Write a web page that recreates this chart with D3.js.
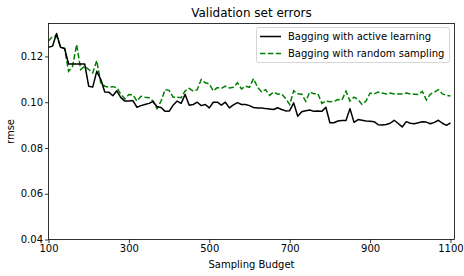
<!DOCTYPE html>
<html>
<head>
<meta charset="utf-8">
<script src="https://cdn.jsdelivr.net/npm/d3@7"></script>
<style>
  html, body { margin: 0; padding: 0; background: #fff; }
  svg { display: block; }
  text { font-family: "DejaVu Sans", sans-serif; fill: #000; }
</style>
</head>
<body>
<svg id="chart" width="464" height="276"></svg>
<script>
const budgets = d3.range(100, 1101, 10);

const activeLearning = [
  0.1240, 0.1245, 0.1300, 0.1240, 0.1235, 0.1167, 0.1167, 0.1167, 0.1167, 0.1167,
  0.1070, 0.1066, 0.1135, 0.1100, 0.1045, 0.1044, 0.1028, 0.1050, 0.1020, 0.1005,
  0.1005, 0.1007, 0.0978, 0.0985, 0.0990, 0.0995, 0.1003, 0.0980, 0.0977, 0.0960,
  0.0960, 0.0987, 0.1005, 0.0995, 0.1034, 0.0987, 0.0990, 0.1000, 0.0985, 0.0990,
  0.0975, 0.1000, 0.1000, 0.0987, 0.1000, 0.0975, 0.0988, 0.0998, 0.0990, 0.0990,
  0.0985, 0.0977, 0.0975, 0.0975, 0.0972, 0.0970, 0.0968, 0.0976, 0.0968, 0.0962,
  0.0963, 0.0997, 0.0939, 0.0958, 0.0963, 0.0966, 0.0960, 0.0962, 0.0960, 0.0978,
  0.0910, 0.0910, 0.0918, 0.0920, 0.0920, 0.0972, 0.0912, 0.0924, 0.0921, 0.0918,
  0.0917, 0.0915, 0.0902, 0.0900, 0.0903, 0.0908, 0.0921, 0.0907, 0.0892, 0.0915,
  0.0908, 0.0906, 0.0910, 0.0915, 0.0913, 0.0906, 0.0912, 0.0921, 0.0908, 0.0899,
  0.0910
];

const randomSampling = [
  0.1267, 0.1288, 0.1290, 0.1240, 0.1235, 0.1135, 0.1157, 0.1252, 0.1143, 0.1157,
  0.1143, 0.1128, 0.1182, 0.1085, 0.1070, 0.1066, 0.1068, 0.1063, 0.1035, 0.1015,
  0.1034, 0.1032, 0.1005, 0.1026, 0.1022, 0.1020, 0.1005, 0.0972, 0.1005, 0.1055,
  0.1052, 0.1022, 0.1022, 0.1020, 0.1050, 0.1060, 0.1048, 0.1055, 0.1099, 0.1085,
  0.1080, 0.1050, 0.1064, 0.1060, 0.1070, 0.1062, 0.1065, 0.1085, 0.1058, 0.1070,
  0.1065, 0.1103, 0.1065, 0.1045, 0.1055, 0.1030, 0.1045, 0.1035, 0.1036, 0.1016,
  0.0990, 0.1050, 0.1037, 0.1035, 0.1004, 0.1045, 0.1037, 0.1038, 0.0995, 0.1005,
  0.1002, 0.1003, 0.1012, 0.1010, 0.1048, 0.1005, 0.1022, 0.1012, 0.0990, 0.1005,
  0.1040, 0.1036, 0.1044, 0.1040, 0.1036, 0.1040, 0.1036, 0.1036, 0.1036, 0.1040,
  0.1036, 0.1035, 0.1034, 0.1047, 0.1010, 0.1036, 0.1044, 0.1055, 0.1036, 0.1030,
  0.1027
];

const xTicks = [100, 300, 500, 700, 900, 1100];
const yTicks = [0.04, 0.06, 0.08, 0.10, 0.12];
const seriesNames = ["Bagging with active learning", "Bagging with random sampling"];
const titleText = "Validation set errors";
const xLabel = "Sampling Budget";
const yLabel = "rmse";

const svg = d3.select("#chart");
const L = 48.5, R = 454.5, T = 23.5, B = 239.5;

const x = d3.scaleLinear().domain([100, 1110]).range([L, R]);
const y = d3.scaleLinear().domain([0.04, 0.1344]).range([B, T]);

const line = (vals) => d3.line()
  .x((d, i) => x(budgets[i]))
  .y(d => y(d))(vals);

svg.append("defs").append("clipPath").attr("id", "clip")
  .append("rect").attr("x", L).attr("y", T).attr("width", R - L).attr("height", B - T);

const g = svg.append("g").attr("clip-path", "url(#clip)");
g.append("path").attr("d", line(randomSampling))
  .attr("fill", "none").attr("stroke", "#008000").attr("stroke-width", 1.5)
  .attr("stroke-dasharray", "5.5,2.4");
g.append("path").attr("d", line(activeLearning))
  .attr("fill", "none").attr("stroke", "#000").attr("stroke-width", 1.5)
  .attr("stroke-linejoin", "round");

// frame
svg.append("rect").attr("x", L).attr("y", T).attr("width", R - L).attr("height", B - T)
  .attr("fill", "none").attr("stroke", "#000").attr("stroke-width", 0.8);

// axes
const xAxis = d3.axisBottom(x).tickValues(xTicks).tickSize(3.5).tickPadding(2).tickFormat(d3.format("d"));
const yAxis = d3.axisLeft(y).tickValues(yTicks).tickSize(3.5).tickPadding(2).tickFormat(d3.format(".2f"));
const gx = svg.append("g").attr("transform", `translate(0,${B})`).call(xAxis);
const gy = svg.append("g").attr("transform", `translate(${L},0)`).call(yAxis);
[gx, gy].forEach(a => {
  a.select(".domain").remove();
  a.selectAll(".tick line").attr("stroke", "#000").attr("stroke-width", 0.8);
  a.selectAll(".tick text").attr("font-size", 10).attr("font-family", "DejaVu Sans").attr("fill", "#000");
});

svg.append("text").attr("x", (L + R) / 2).attr("y", 17).attr("text-anchor", "middle")
  .attr("font-size", 12).text(titleText);
svg.append("text").attr("x", (L + R) / 2).attr("y", 268).attr("text-anchor", "middle")
  .attr("font-size", 10).text(xLabel);
svg.append("text").attr("transform", `translate(14,${(T + B) / 2}) rotate(-90)`)
  .attr("text-anchor", "middle").attr("font-size", 10).text(yLabel);

// legend
const lg = svg.append("g");
lg.append("rect").attr("x", 256.5).attr("y", 27.5).attr("width", 193).attr("height", 35)
  .attr("rx", 2).attr("fill", "#fff").attr("fill-opacity", 0.8).attr("stroke", "#ccc").attr("stroke-width", 0.8);
const styles = [{c: "#000", d: null}, {c: "#008000", d: "5.5,2.4"}];
seriesNames.forEach((n, i) => {
  const yy = 36.5 + i * 17;
  const l = lg.append("line").attr("x1", 260).attr("x2", 281).attr("y1", yy).attr("y2", yy)
    .attr("stroke", styles[i].c).attr("stroke-width", 1.5);
  if (styles[i].d) l.attr("stroke-dasharray", styles[i].d);
  lg.append("text").attr("x", 288).attr("y", yy + 3.5).attr("font-size", 10).text(n);
});
</script>
</body>
</html>
